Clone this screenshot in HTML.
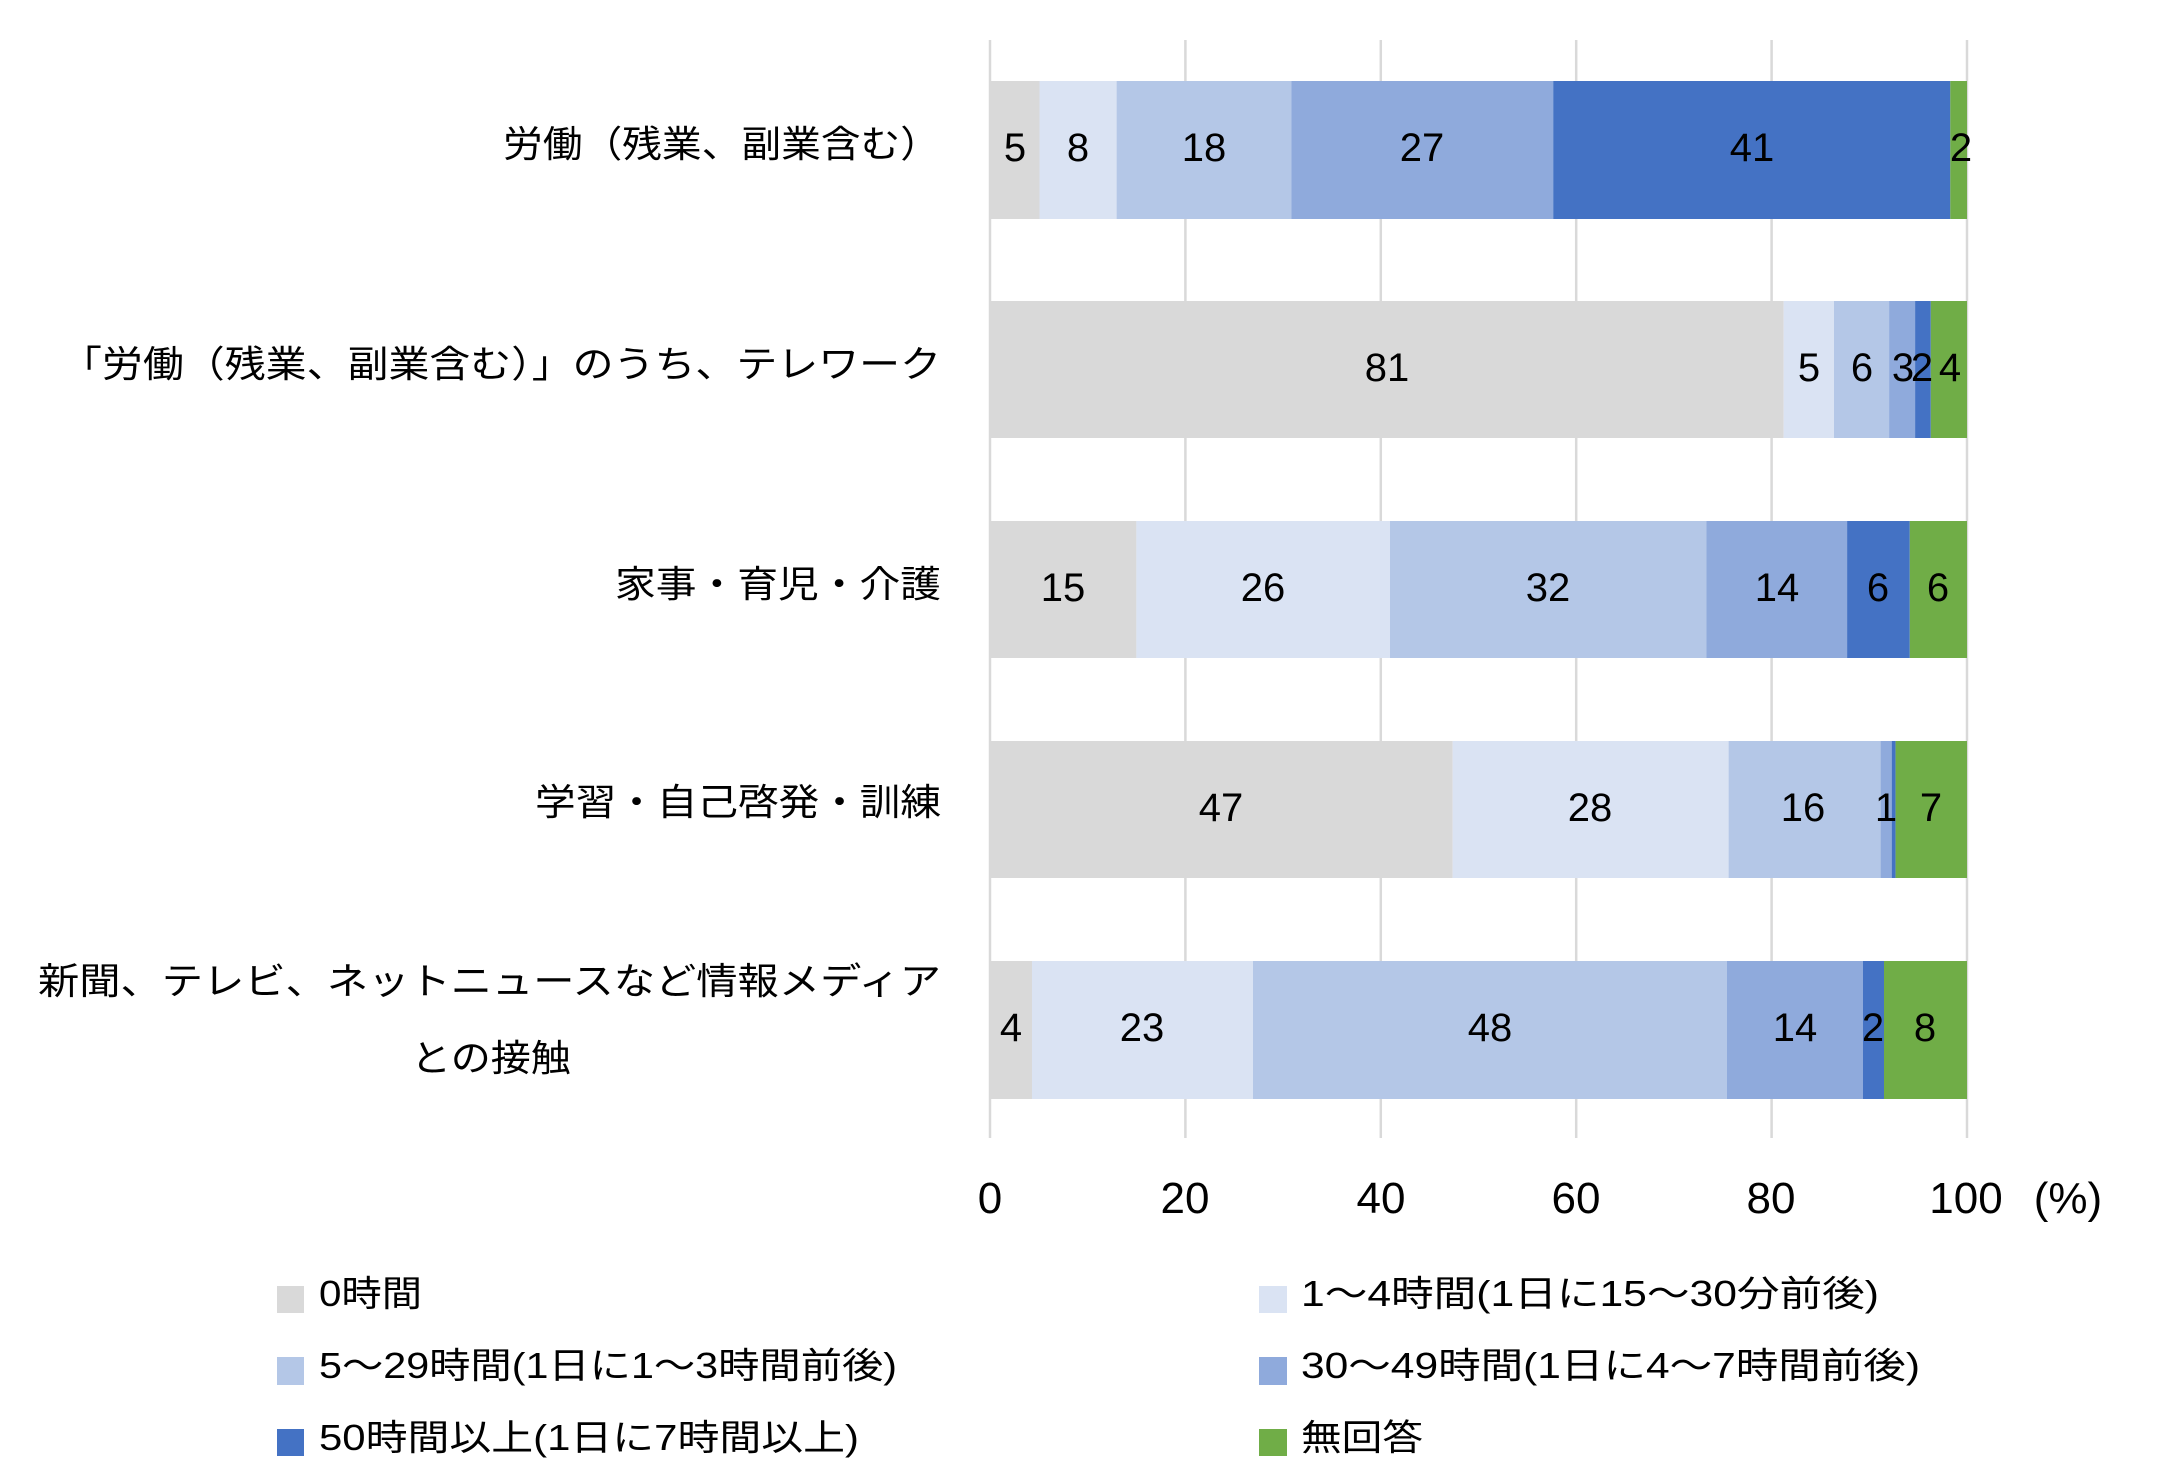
<!DOCTYPE html>
<html><head><meta charset="utf-8"><style>
html,body{margin:0;padding:0;background:#fff;}
svg{display:block;font-family:"Liberation Sans","Noto Sans CJK JP",sans-serif;}
</style></head><body>
<svg width="2183" height="1478" viewBox="0 0 2183 1478" xmlns="http://www.w3.org/2000/svg">
<rect width="2183" height="1478" fill="#fff"/>
<g stroke="#d9d9d9" stroke-width="2.5">
<line x1="990" y1="40" x2="990" y2="1138"/>
<line x1="1185.4" y1="40" x2="1185.4" y2="1138"/>
<line x1="1380.8" y1="40" x2="1380.8" y2="1138"/>
<line x1="1576.2" y1="40" x2="1576.2" y2="1138"/>
<line x1="1771.6" y1="40" x2="1771.6" y2="1138"/>
<line x1="1967" y1="40" x2="1967" y2="1138"/>
</g>
<!-- Bar 1 -->
<rect x="990" y="81" width="49.5" height="138" fill="#d9d9d9"/>
<rect x="1039.5" y="81" width="77.1" height="138" fill="#dae3f3"/>
<rect x="1116.6" y="81" width="174.7" height="138" fill="#b4c7e7"/>
<rect x="1291.3" y="81" width="261.9" height="138" fill="#8faadc"/>
<rect x="1553.2" y="81" width="397.1" height="138" fill="#4472c4"/>
<rect x="1950.3" y="81" width="16.7" height="138" fill="#70ad47"/>
<!-- Bar 2 -->
<rect x="990" y="301" width="793.7" height="137" fill="#d9d9d9"/>
<rect x="1783.7" y="301" width="50.3" height="137" fill="#dae3f3"/>
<rect x="1834" y="301" width="55.1" height="137" fill="#b4c7e7"/>
<rect x="1889.1" y="301" width="26" height="137" fill="#8faadc"/>
<rect x="1915.1" y="301" width="15.7" height="137" fill="#4472c4"/>
<rect x="1930.8" y="301" width="36.2" height="137" fill="#70ad47"/>
<!-- Bar 3 -->
<rect x="990" y="521" width="146.4" height="137" fill="#d9d9d9"/>
<rect x="1136.4" y="521" width="253.6" height="137" fill="#dae3f3"/>
<rect x="1390" y="521" width="316.3" height="137" fill="#b4c7e7"/>
<rect x="1706.3" y="521" width="140.8" height="137" fill="#8faadc"/>
<rect x="1847.1" y="521" width="62.7" height="137" fill="#4472c4"/>
<rect x="1909.8" y="521" width="57.2" height="137" fill="#70ad47"/>
<!-- Bar 4 -->
<rect x="990" y="741" width="462.7" height="137" fill="#d9d9d9"/>
<rect x="1452.7" y="741" width="275.9" height="137" fill="#dae3f3"/>
<rect x="1728.6" y="741" width="152" height="137" fill="#b4c7e7"/>
<rect x="1880.6" y="741" width="11.1" height="137" fill="#8faadc"/>
<rect x="1891.7" y="741" width="3.9" height="137" fill="#4472c4"/>
<rect x="1895.6" y="741" width="71.4" height="137" fill="#70ad47"/>
<!-- Bar 5 -->
<rect x="990" y="961" width="42" height="138" fill="#d9d9d9"/>
<rect x="1032" y="961" width="221" height="138" fill="#dae3f3"/>
<rect x="1253" y="961" width="474" height="138" fill="#b4c7e7"/>
<rect x="1727" y="961" width="136" height="138" fill="#8faadc"/>
<rect x="1863" y="961" width="21" height="138" fill="#4472c4"/>
<rect x="1884" y="961" width="83" height="138" fill="#70ad47"/>
<!-- data labels -->
<g font-size="40" text-anchor="middle" fill="#000">
<text x="1015" y="161">5</text><text x="1078" y="161">8</text><text x="1204" y="161">18</text><text x="1422" y="161">27</text><text x="1752" y="161">41</text><text x="1961" y="161">2</text>
<text x="1387" y="381">81</text><text x="1809" y="381">5</text><text x="1862" y="381">6</text><text x="1903" y="381">3</text><text x="1922" y="381">2</text><text x="1950" y="381">4</text>
<text x="1063" y="601">15</text><text x="1263" y="601">26</text><text x="1548" y="601">32</text><text x="1777" y="601">14</text><text x="1878" y="601">6</text><text x="1938" y="601">6</text>
<text x="1221" y="821">47</text><text x="1590" y="821">28</text><text x="1803" y="821">16</text><text x="1886" y="821">1</text><text x="1931" y="821">7</text>
<text x="1011" y="1041">4</text><text x="1142" y="1041">23</text><text x="1490" y="1041">48</text><text x="1795" y="1041">14</text><text x="1873" y="1041">2</text><text x="1925" y="1041">8</text>
</g>
<!-- category labels -->
<g font-size="37" text-anchor="end" fill="#000">
<text x="940" y="157" textLength="437" lengthAdjust="spacingAndGlyphs">労働（残業、副業含む）</text>
<text x="941" y="377" textLength="880" lengthAdjust="spacingAndGlyphs">「労働（残業、副業含む）」のうち、テレワーク</text>
<text x="941" y="597" textLength="326" lengthAdjust="spacingAndGlyphs">家事・育児・介護</text>
<text x="941" y="815" textLength="406" lengthAdjust="spacingAndGlyphs">学習・自己啓発・訓練</text>
<text x="941" y="994" textLength="903" lengthAdjust="spacingAndGlyphs">新聞、テレビ、ネットニュースなど情報メディア</text>
<text x="571" y="1071" textLength="160" lengthAdjust="spacingAndGlyphs">との接触</text>
</g>
<!-- axis ticks -->
<g font-size="44" text-anchor="middle" fill="#000">
<text x="990" y="1213">0</text><text x="1185" y="1213">20</text><text x="1381" y="1213">40</text><text x="1576" y="1213">60</text><text x="1771" y="1213">80</text><text x="1966" y="1213">100</text>
<text x="2068" y="1213">(%)</text>
</g>
<!-- legend -->
<rect x="277" y="1286" width="27" height="27" fill="#d9d9d9"/>
<rect x="277" y="1357" width="27" height="28" fill="#b4c7e7"/>
<rect x="277" y="1429" width="27" height="27" fill="#4472c4"/>
<rect x="1259" y="1286" width="28" height="27" fill="#dae3f3"/>
<rect x="1259" y="1357" width="28" height="28" fill="#8faadc"/>
<rect x="1259" y="1429" width="28" height="27" fill="#70ad47"/>
<g font-size="36" fill="#000">
<text x="319" y="1306" textLength="103" lengthAdjust="spacingAndGlyphs">0時間</text>
<text x="319" y="1378" textLength="578" lengthAdjust="spacingAndGlyphs">5～29時間(1日に1～3時間前後)</text>
<text x="319" y="1450" textLength="540" lengthAdjust="spacingAndGlyphs">50時間以上(1日に7時間以上)</text>
<text x="1301" y="1306" textLength="578" lengthAdjust="spacingAndGlyphs">1～4時間(1日に15～30分前後)</text>
<text x="1301" y="1378" textLength="619" lengthAdjust="spacingAndGlyphs">30～49時間(1日に4～7時間前後)</text>
<text x="1301" y="1450" textLength="122" lengthAdjust="spacingAndGlyphs">無回答</text>
</g>
</svg>
</body></html>
